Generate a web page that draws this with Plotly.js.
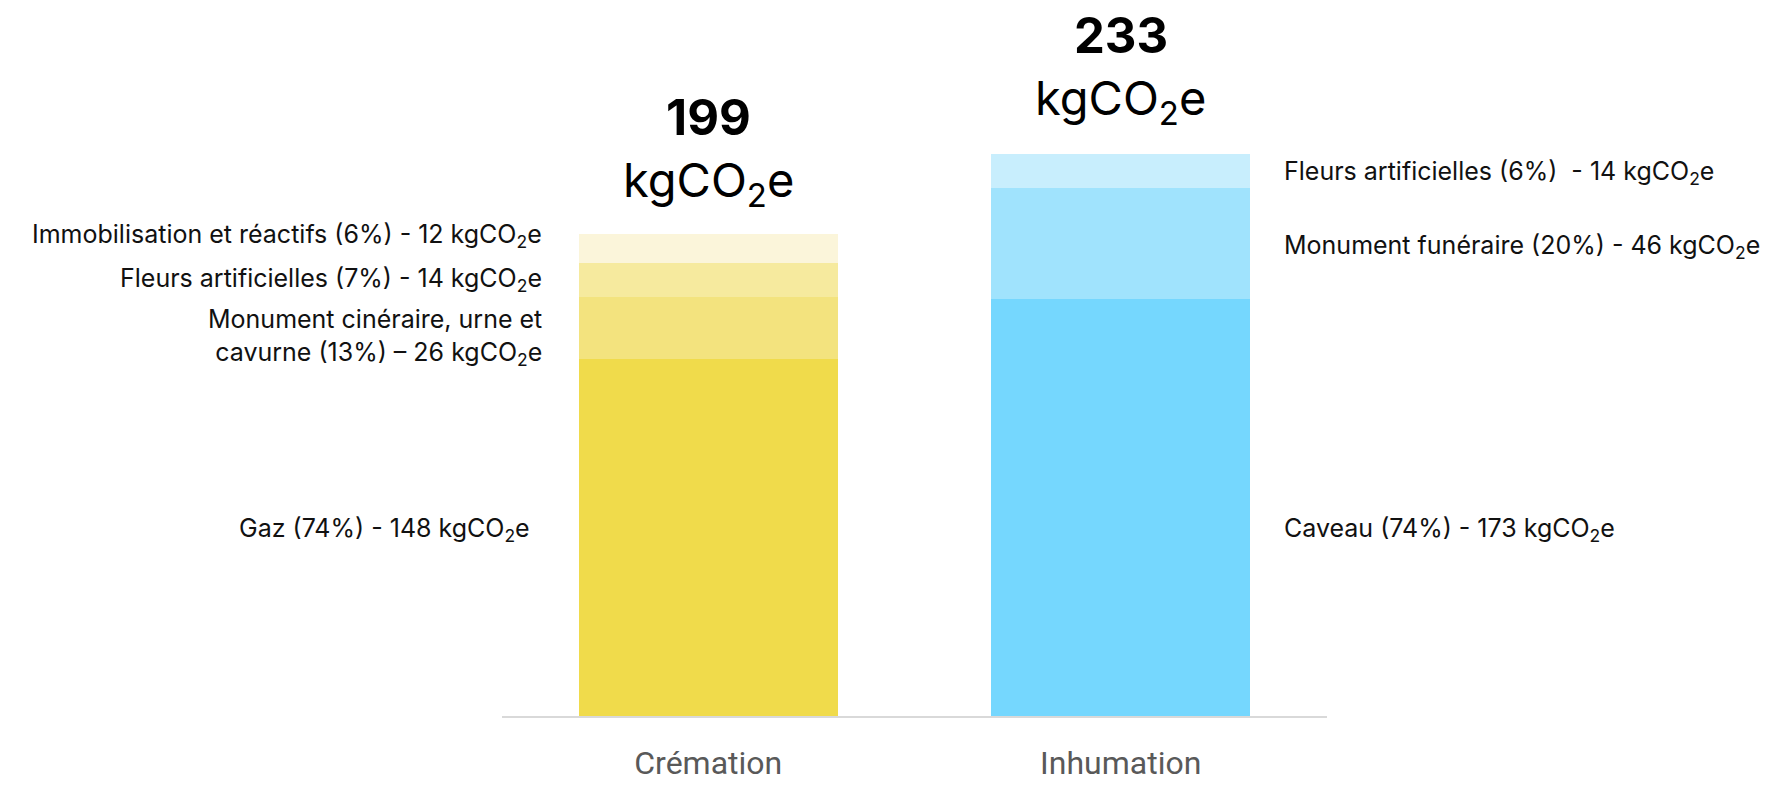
<!DOCTYPE html>
<html><head><meta charset="utf-8">
<script src="https://cdn.plot.ly/plotly-3.0.1.min.js"></script>
<style>html,body{margin:0;padding:0;background:#fff;}</style>
</head><body><div id="chart" style="width:1777px;height:786px;"></div>
<script>
const categories = ["Crémation", "Inhumation"];
const totals = [199, 233];

// Crémation components (bottom -> top)
const cremLabels = ["Gaz (74%) - 148 kgCO<sub>2</sub>e",
  "Monument cinéraire, urne et<br>cavurne (13%) – 26 kgCO<sub>2</sub>e",
  "Fleurs artificielles (7%) - 14 kgCO<sub>2</sub>e",
  "Immobilisation et réactifs (6%) - 12 kgCO<sub>2</sub>e"];
const cremValues = [148, 26, 14, 12];
const cremColors = ["#F0DB4B", "#F3E37E", "#F6EA9E", "#FBF5DA"];

// Inhumation components (bottom -> top)
const inhLabels = ["Caveau (74%) - 173 kgCO<sub>2</sub>e",
  "Monument funéraire (20%) - 46 kgCO<sub>2</sub>e",
  "Fleurs artificielles (6%)  - 14 kgCO<sub>2</sub>e"];
const inhValues = [173, 46, 14];
const inhColors = ["#75D7FE", "#A0E3FD", "#C8EEFD"];

const traces = [];
cremValues.forEach((v, i) => traces.push({
  type: "bar", x: [categories[0]], y: [v], marker: {color: cremColors[i]},
  hoverinfo: "skip", showlegend: false
}));
inhValues.forEach((v, i) => traces.push({
  type: "bar", x: [categories[1]], y: [v], marker: {color: inhColors[i]},
  hoverinfo: "skip", showlegend: false
}));

const labFont = {family: "Inter, 'Noto Sans', sans-serif", size: 25, color: "#111"};
const annotations = [];
const cremShift = [8, -9, 0, 13];
let cum = 0;
cremValues.forEach((v, i) => {
  const mid = cum + v / 2; cum += v;
  annotations.push({x: categories[0], y: mid, xref: "x", yref: "y", text: cremLabels[i],
    showarrow: false, xanchor: "right", yanchor: "middle", align: "right",
    xshift: -(164 + (i === 0 ? 12 : 0)), yshift: cremShift[i], font: labFont});
});
const inhShift = [-22, -3, -1];
cum = 0;
inhValues.forEach((v, i) => {
  const mid = cum + v / 2; cum += v;
  annotations.push({x: categories[1], y: mid, xref: "x", yref: "y", text: inhLabels[i],
    showarrow: false, xanchor: "left", yanchor: "middle", align: "left",
    xshift: 161, yshift: inhShift[i], font: labFont});
});
totals.forEach((t, i) => {
  annotations.push({x: categories[i], y: t, xref: "x", yref: "y",
    text: "<b>" + t + "</b>", showarrow: false, yanchor: "bottom", yshift: 87,
    font: {family: "Inter, 'Noto Sans', sans-serif", size: 49, color: "#000"}});
  annotations.push({x: categories[i], y: t, xref: "x", yref: "y",
    text: "kgCO<sub>2</sub>e", showarrow: false, yanchor: "bottom", yshift: 19,
    font: {family: "Inter, 'Noto Sans', sans-serif", size: 47, color: "#000"}});
});

const layout = {
  width: 1777, height: 786,
  margin: {l: 502, r: 450, t: 0, b: 70},
  barmode: "stack", bargap: 0.372,
  paper_bgcolor: "#fff", plot_bgcolor: "#fff",
  xaxis: {type: "category", range: [-0.5, 1.5], showline: true, linecolor: "#d9d9d9", linewidth: 2,
    ticks: "", showgrid: false, zeroline: false, ticklabelstandoff: 18,
    tickfont: {family: "Roboto, sans-serif", size: 32, color: "#595959"}},
  yaxis: {range: [0, 297], visible: false, showgrid: false, zeroline: false},
  annotations: annotations
};
Plotly.newPlot("chart", traces, layout, {displayModeBar: false, staticPlot: true});
</script></body></html>
